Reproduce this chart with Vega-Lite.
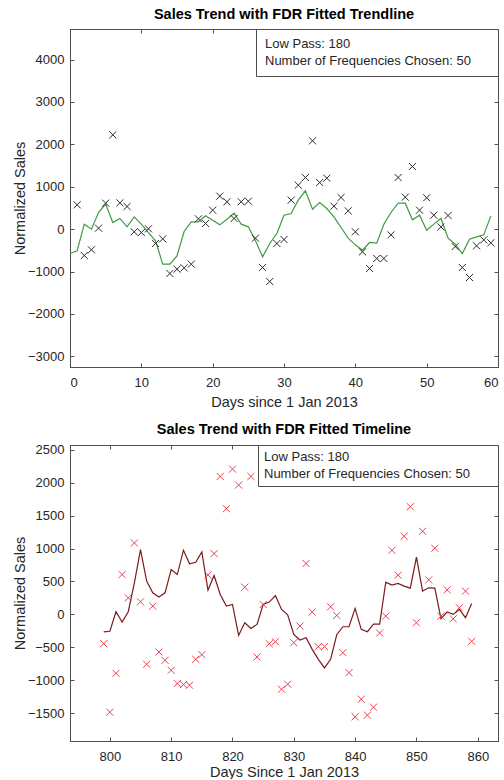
{
  "$schema": "https://vega.github.io/schema/vega-lite/v6.json",
  "padding": {"left": 11, "top": 6, "right": 6, "bottom": 0},
  "background": "white",
  "config": {
    "font": "Liberation Sans",
    "view": {"stroke": "#4d4d4d", "strokeWidth": 1},
    "axis": {
      "labelFont": "Liberation Sans", "labelFontSize": 13, "labelColor": "#262626", "format": "d",
      "titleFont": "Liberation Sans", "titleFontSize": 14.5, "titleFontWeight": "normal", "titleColor": "#262626",
      "domainColor": "#4d4d4d", "tickColor": "#262626", "tickSize": -4, "grid": false,
      "domainWidth": 1, "tickWidth": 0.8
    },
    "title": {"font": "Liberation Sans", "fontSize": 14.5, "fontWeight": "bold", "color": "#000000", "frame": "group", "offset": 6},
    "legend": {
      "labelFont": "Liberation Sans", "labelFontSize": 13, "labelColor": "#262626", "labelLimit": 400,
      "strokeColor": "#4d4d4d", "fillColor": "white", "orient": "top-right", "offset": 0,
      "symbolSize": 1, "symbolOpacity": 0, "symbolStrokeWidth": 0, "labelOffset": -12,
      "rowPadding": 3.5, "title": null
    }
  },
  "datasets": {
    "topPts": [
      {"day": 1, "sales": 574}, {"day": 2, "sales": -621}, {"day": 3, "sales": -487}, {"day": 4, "sales": 24},
      {"day": 5, "sales": 613}, {"day": 6, "sales": 2224}, {"day": 7, "sales": 621}, {"day": 8, "sales": 534},
      {"day": 9, "sales": -63}, {"day": 10, "sales": -79}, {"day": 11, "sales": 8}, {"day": 12, "sales": -338},
      {"day": 13, "sales": -228}, {"day": 14, "sales": -1045}, {"day": 15, "sales": -943}, {"day": 16, "sales": -912},
      {"day": 17, "sales": -825}, {"day": 18, "sales": 244}, {"day": 19, "sales": 134}, {"day": 20, "sales": 448},
      {"day": 21, "sales": 778}, {"day": 22, "sales": 645}, {"day": 23, "sales": 252}, {"day": 24, "sales": 645},
      {"day": 25, "sales": 660}, {"day": 26, "sales": -212}, {"day": 27, "sales": -904}, {"day": 28, "sales": -1234},
      {"day": 29, "sales": -338}, {"day": 30, "sales": -244}, {"day": 31, "sales": 684}, {"day": 32, "sales": 1038},
      {"day": 33, "sales": 1218}, {"day": 34, "sales": 2083}, {"day": 35, "sales": 1100}, {"day": 36, "sales": 1203},
      {"day": 37, "sales": 542}, {"day": 38, "sales": 747}, {"day": 39, "sales": 432}, {"day": 40, "sales": -63},
      {"day": 41, "sales": -534}, {"day": 42, "sales": -927}, {"day": 43, "sales": -692}, {"day": 44, "sales": -692},
      {"day": 45, "sales": -134}, {"day": 46, "sales": 1218}, {"day": 47, "sales": 755}, {"day": 48, "sales": 1478},
      {"day": 49, "sales": 448}, {"day": 50, "sales": 740}, {"day": 51, "sales": 330}, {"day": 52, "sales": 55},
      {"day": 53, "sales": 322}, {"day": 54, "sales": -409}, {"day": 55, "sales": -904}, {"day": 56, "sales": -1140},
      {"day": 57, "sales": -393}, {"day": 58, "sales": -252}, {"day": 59, "sales": -322}
    ],
    "topLine": [
      {"day": 0, "sales": -574}, {"day": 1, "sales": -511}, {"day": 2, "sales": 118}, {"day": 3, "sales": 0},
      {"day": 4, "sales": 393}, {"day": 5, "sales": 590}, {"day": 6, "sales": 157}, {"day": 7, "sales": 252},
      {"day": 8, "sales": 55}, {"day": 9, "sales": 291}, {"day": 10, "sales": 118}, {"day": 11, "sales": -79},
      {"day": 12, "sales": -275}, {"day": 13, "sales": -825}, {"day": 14, "sales": -825}, {"day": 15, "sales": -629},
      {"day": 16, "sales": -55}, {"day": 17, "sales": 173}, {"day": 18, "sales": 173}, {"day": 19, "sales": 314},
      {"day": 20, "sales": 212}, {"day": 21, "sales": 102}, {"day": 22, "sales": 236}, {"day": 23, "sales": 377},
      {"day": 24, "sales": 118}, {"day": 25, "sales": 55}, {"day": 26, "sales": -275}, {"day": 27, "sales": -652},
      {"day": 28, "sales": -338}, {"day": 29, "sales": -102}, {"day": 30, "sales": 330}, {"day": 31, "sales": 369},
      {"day": 32, "sales": 684}, {"day": 33, "sales": 904}, {"day": 34, "sales": 472}, {"day": 35, "sales": 629},
      {"day": 36, "sales": 487}, {"day": 37, "sales": 291}, {"day": 38, "sales": 39}, {"day": 39, "sales": -212},
      {"day": 40, "sales": -369}, {"day": 41, "sales": -495}, {"day": 42, "sales": -314}, {"day": 43, "sales": -330},
      {"day": 44, "sales": 118}, {"day": 45, "sales": 393}, {"day": 46, "sales": 613}, {"day": 47, "sales": 613},
      {"day": 48, "sales": 220}, {"day": 49, "sales": 330}, {"day": 50, "sales": -24}, {"day": 51, "sales": 118},
      {"day": 52, "sales": 259}, {"day": 53, "sales": -212}, {"day": 54, "sales": -354}, {"day": 55, "sales": -574},
      {"day": 56, "sales": -236}, {"day": 57, "sales": -181}, {"day": 58, "sales": -134}, {"day": 59, "sales": 314}
    ],
    "botPts": [
      {"day": 799, "sales": -444}, {"day": 800, "sales": -1483}, {"day": 801, "sales": -893}, {"day": 802, "sales": 605},
      {"day": 803, "sales": 252}, {"day": 804, "sales": 1084}, {"day": 805, "sales": 192}, {"day": 806, "sales": -756},
      {"day": 807, "sales": 126}, {"day": 808, "sales": -570}, {"day": 809, "sales": -696}, {"day": 810, "sales": -847},
      {"day": 811, "sales": -1049}, {"day": 812, "sales": -1064}, {"day": 813, "sales": -1074}, {"day": 814, "sales": -681},
      {"day": 815, "sales": -610}, {"day": 816, "sales": 598}, {"day": 817, "sales": 923}, {"day": 818, "sales": 2093},
      {"day": 819, "sales": 1604}, {"day": 820, "sales": 2204}, {"day": 821, "sales": 1962}, {"day": 822, "sales": 413},
      {"day": 823, "sales": 2093}, {"day": 824, "sales": -645}, {"day": 825, "sales": 151}, {"day": 826, "sales": -444},
      {"day": 827, "sales": -414}, {"day": 828, "sales": -1135}, {"day": 829, "sales": -1059}, {"day": 830, "sales": -429},
      {"day": 831, "sales": -177}, {"day": 832, "sales": 772}, {"day": 833, "sales": 35}, {"day": 834, "sales": -489},
      {"day": 835, "sales": -489}, {"day": 836, "sales": 116}, {"day": 837, "sales": -15}, {"day": 838, "sales": -580},
      {"day": 839, "sales": -883}, {"day": 840, "sales": -1553}, {"day": 841, "sales": -1286}, {"day": 842, "sales": -1528},
      {"day": 843, "sales": -1407}, {"day": 844, "sales": -282}, {"day": 845, "sales": -25}, {"day": 846, "sales": 973},
      {"day": 847, "sales": 595}, {"day": 848, "sales": 1185}, {"day": 849, "sales": 1634}, {"day": 850, "sales": -126},
      {"day": 851, "sales": 1261}, {"day": 852, "sales": 524}, {"day": 853, "sales": 1004}, {"day": 854, "sales": -25},
      {"day": 855, "sales": 373}, {"day": 856, "sales": -66}, {"day": 857, "sales": 101}, {"day": 858, "sales": 353},
      {"day": 859, "sales": -408}
    ],
    "botLine": [
      {"day": 799, "sales": -266}, {"day": 800, "sales": -255}, {"day": 801, "sales": 41}, {"day": 802, "sales": -115},
      {"day": 803, "sales": 41}, {"day": 804, "sales": 480}, {"day": 805, "sales": 983}, {"day": 806, "sales": 505},
      {"day": 807, "sales": 328}, {"day": 808, "sales": 263}, {"day": 809, "sales": 328}, {"day": 810, "sales": 681},
      {"day": 811, "sales": 605}, {"day": 812, "sales": 974}, {"day": 813, "sales": 767}, {"day": 814, "sales": 792},
      {"day": 815, "sales": 948}, {"day": 816, "sales": 369}, {"day": 817, "sales": 590}, {"day": 818, "sales": 303},
      {"day": 819, "sales": 126}, {"day": 820, "sales": 151}, {"day": 821, "sales": -318}, {"day": 822, "sales": -126},
      {"day": 823, "sales": -212}, {"day": 824, "sales": -151}, {"day": 825, "sales": 151}, {"day": 826, "sales": 187},
      {"day": 827, "sales": 287}, {"day": 828, "sales": 76}, {"day": 829, "sales": -5}, {"day": 830, "sales": -303},
      {"day": 831, "sales": -388}, {"day": 832, "sales": -353}, {"day": 833, "sales": -530}, {"day": 834, "sales": -681},
      {"day": 835, "sales": -812}, {"day": 836, "sales": -681}, {"day": 837, "sales": -308}, {"day": 838, "sales": -187},
      {"day": 839, "sales": -187}, {"day": 840, "sales": 91}, {"day": 841, "sales": -227}, {"day": 842, "sales": -262},
      {"day": 843, "sales": -146}, {"day": 844, "sales": -146}, {"day": 845, "sales": 490}, {"day": 846, "sales": 444},
      {"day": 847, "sales": 469}, {"day": 848, "sales": 429}, {"day": 849, "sales": 399}, {"day": 850, "sales": 868},
      {"day": 851, "sales": 354}, {"day": 852, "sales": 404}, {"day": 853, "sales": 399}, {"day": 854, "sales": -65},
      {"day": 855, "sales": 36}, {"day": 856, "sales": 0}, {"day": 857, "sales": 76}, {"day": 858, "sales": -50},
      {"day": 859, "sales": 166}
    ]
  },
  "resolve": {"scale": {"color": "independent"}, "legend": {"color": "independent"}},
  "spacing": 12,
  "vconcat": [
    {
      "width": 428,
      "height": 338,
      "title": {"text": "Sales Trend with FDR Fitted Trendline"},
      "resolve": {"axis": {"x": "independent", "y": "independent"}},
      "layer": [
        {
          "data": {"name": "topLine"},
          "mark": {"type": "line", "strokeWidth": 1.2},
          "encoding": {
            "x": {"field": "day", "type": "quantitative", "scale": {"domain": [0, 60], "nice": false, "zero": false},
                  "axis": {"orient": "top", "labels": false, "title": null, "values": [0, 10, 20, 30, 40, 50, 60]}},
            "y": {"field": "sales", "type": "quantitative", "scale": {"domain": [-3250, 4720], "nice": false, "zero": false},
                  "axis": {"orient": "right", "labels": false, "title": null, "values": [-3000, -2000, -1000, 0, 1000, 2000, 3000, 4000]}},
            "color": {"datum": "Number of Frequencies Chosen: 50", "type": "nominal",
                      "scale": {"domain": ["Low Pass: 180", "Number of Frequencies Chosen: 50"], "range": ["#2a2a2a", "#3f9b3f"]},
                      "legend": {"padding": 8, "symbolType": "M0,0L438,0"}}
          }
        },
        {
          "data": {"name": "topPts"},
          "mark": {"type": "point", "shape": "M-1,-1L1,1M-1,1L1,-1", "filled": false, "size": 50, "strokeWidth": 1, "opacity": 1},
          "encoding": {
            "x": {"field": "day", "type": "quantitative",
                  "axis": {"orient": "bottom", "title": "Days since 1 Jan 2013", "values": [0, 10, 20, 30, 40, 50, 60], "labelPadding": 13, "titlePadding": 6}},
            "y": {"field": "sales", "type": "quantitative",
                  "axis": {"orient": "left", "title": "Normalized Sales", "values": [-3000, -2000, -1000, 0, 1000, 2000, 3000, 4000], "labelPadding": 10, "titlePadding": 0}},
            "color": {"datum": "Low Pass: 180", "type": "nominal"}
          }
        }
      ]
    },
    {
      "width": 428,
      "height": 296,
      "title": {"text": "Sales Trend with FDR Fitted Timeline"},
      "resolve": {"axis": {"x": "independent", "y": "independent"}},
      "layer": [
        {
          "data": {"name": "botLine"},
          "mark": {"type": "line", "strokeWidth": 1.2},
          "encoding": {
            "x": {"field": "day", "type": "quantitative", "scale": {"domain": [793.5, 863.3], "nice": false, "zero": false},
                  "axis": {"orient": "top", "labels": false, "title": null, "values": [800, 810, 820, 830, 840, 850, 860]}},
            "y": {"field": "sales", "type": "quantitative", "scale": {"domain": [-1920, 2570], "nice": false, "zero": false},
                  "axis": {"orient": "right", "labels": false, "title": null, "values": [-1500, -1000, -500, 0, 500, 1000, 1500, 2000, 2500]}},
            "color": {"datum": "Number of Frequencies Chosen: 50", "type": "nominal",
                      "scale": {"domain": ["Low Pass: 180", "Number of Frequencies Chosen: 50"], "range": ["#e8434f", "#7b1c1c"]},
                      "legend": {"padding": 5, "symbolType": "M0,0L447,0"}}
          }
        },
        {
          "data": {"name": "botPts"},
          "mark": {"type": "point", "shape": "M-1,-1L1,1M-1,1L1,-1", "filled": false, "size": 50, "strokeWidth": 1, "opacity": 1},
          "encoding": {
            "x": {"field": "day", "type": "quantitative",
                  "axis": {"orient": "bottom", "title": "Days Since 1 Jan 2013", "values": [800, 810, 820, 830, 840, 850, 860], "labelPadding": 13, "titlePadding": 2}},
            "y": {"field": "sales", "type": "quantitative",
                  "axis": {"orient": "left", "title": "Normalized Sales", "values": [-1500, -1000, -500, 0, 500, 1000, 1500, 2000, 2500], "labelPadding": 10, "titlePadding": 0}},
            "color": {"datum": "Low Pass: 180", "type": "nominal"}
          }
        }
      ]
    }
  ]
}
